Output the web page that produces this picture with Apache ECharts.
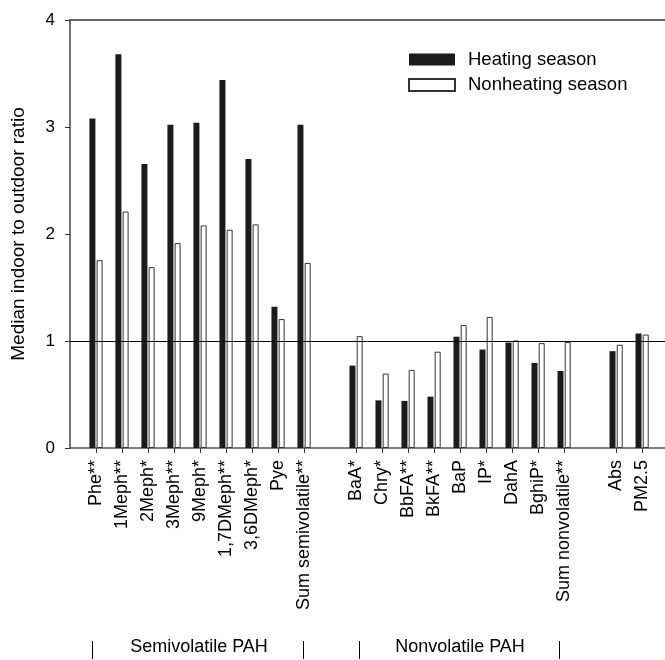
<!DOCTYPE html>
<html><head><meta charset="utf-8">
<script src="https://cdn.jsdelivr.net/npm/echarts@6/dist/echarts.min.js"></script>
<style>html,body{margin:0;padding:0;background:#fff}#c{width:665px;height:660px}</style>
</head><body><div id="c"></div>
<script>
// Category slots ('' = spacer between groups)
const categories = ['', 'Phe**', '1Meph**', '2Meph*', '3Meph**', '9Meph*', '1,7DMeph**', '3,6DMeph*', 'Pye', 'Sum semivolatile**', '',
  'BaA*', 'Chry*', 'BbFA**', 'BkFA**', 'BaP', 'IP*', 'DahA', 'BghiP*', 'Sum nonvolatile**', '', 'Abs', 'PM2.5'];
const heating =    [null, 3.08, 3.68, 2.655, 3.02, 3.04, 3.44, 2.70, 1.32, 3.02, null,
  0.77, 0.445, 0.44, 0.48, 1.04, 0.92, 0.985, 0.795, 0.72, null, 0.905, 1.07];
const nonheating = [null, 1.755, 2.21, 1.69, 1.915, 2.08, 2.04, 2.09, 1.205, 1.73, null,
  1.045, 0.695, 0.73, 0.90, 1.15, 1.225, 1.005, 0.98, 0.99, null, 0.965, 1.06];
const yTicks = [0, 1, 2, 3, 4];
const seriesNames = ['Heating season', 'Nonheating season'];
const groupLabels = ['Semivolatile PAH', 'Nonvolatile PAH'];
const referenceLine = 1;

const FONT = 'Liberation Sans, Arial, sans-serif';
const labelIdx = categories.map((c, i) => c ? i : -1).filter(i => i >= 0);
const toPairs = arr => arr.map((v, i) => v == null ? null : [i, v]).filter(d => d);

const chart = echarts.init(document.getElementById('c'));
chart.setOption({
  animation: false,
  backgroundColor: '#fff',
  grid: { left: 70, right: 0, top: 20, bottom: 212, containLabel: false },
  legend: {
    left: 408, top: 50, orient: 'vertical', padding: 0, itemWidth: 46, itemHeight: 12, itemGap: 6.5,
    icon: 'rect',
    textStyle: { fontFamily: FONT, fontSize: 18.5, color: '#000', padding: [0, 0, 0, 8] },
    data: seriesNames
  },
  xAxis: [{
    type: 'value', min: 0, max: 22.88, interval: 1,
    axisLine: { show: true, lineStyle: { color: '#555', width: 1.5 } },
    axisTick: { show: true, inside: false, length: 5, customValues: labelIdx, lineStyle: { color: '#333' } },
    axisLabel: {
      customValues: labelIdx, rotate: 90, margin: 12,
      fontFamily: FONT, fontSize: 18, color: '#000',
      formatter: v => categories[Math.round(v)] || ''
    },
    splitLine: { show: false }
  }, {
    type: 'value', position: 'top', min: 0, max: 22.88,
    axisLine: { show: true, lineStyle: { color: '#666', width: 2 } },
    axisTick: { show: false }, axisLabel: { show: false }, splitLine: { show: false }
  }],
  yAxis: {
    type: 'value', min: yTicks[0], max: yTicks[yTicks.length - 1], interval: 1,
    name: 'Median indoor to outdoor ratio', nameLocation: 'middle', nameGap: 42, nameRotate: 90,
    nameTextStyle: { fontFamily: FONT, fontSize: 19, color: '#000' },
    axisLine: { show: true, lineStyle: { color: '#444', width: 1.5 } },
    axisTick: { show: true, length: 5, lineStyle: { color: '#333' } },
    axisLabel: { margin: 15, fontFamily: FONT, fontSize: 17, color: '#000' },
    splitLine: { show: false }
  },
  series: [{
    name: seriesNames[0], type: 'bar', xAxisIndex: 0, barWidth: 6, barGap: '20%',
    itemStyle: { color: '#1b1b1b', borderColor: '#1b1b1b', borderWidth: 0 },
    data: toPairs(heating),
    markLine: {
      silent: true, symbol: 'none', label: { show: false },
      lineStyle: { color: '#000', width: 1, type: 'solid' },
      data: [{ yAxis: referenceLine }]
    }
  }, {
    name: seriesNames[1], type: 'bar', xAxisIndex: 0, barWidth: 6, barGap: '20%',
    itemStyle: { color: '#fff', borderColor: '#333', borderWidth: 1 },
    data: toPairs(nonheating)
  }],
  graphic: [
    { type: 'text', x: 199, y: 647, style: { text: groupLabels[0], fontFamily: FONT, fontSize: 18, fill: '#000', textAlign: 'center', textVerticalAlign: 'middle' } },
    { type: 'text', x: 460, y: 647, style: { text: groupLabels[1], fontFamily: FONT, fontSize: 18, fill: '#000', textAlign: 'center', textVerticalAlign: 'middle' } },
    { type: 'line', shape: { x1: 92.5, y1: 641, x2: 92.5, y2: 659 }, style: { stroke: '#000', lineWidth: 1 } },
    { type: 'line', shape: { x1: 303.5, y1: 641, x2: 303.5, y2: 659 }, style: { stroke: '#000', lineWidth: 1 } },
    { type: 'line', shape: { x1: 359.5, y1: 641, x2: 359.5, y2: 659 }, style: { stroke: '#000', lineWidth: 1 } },
    { type: 'line', shape: { x1: 559.5, y1: 641, x2: 559.5, y2: 659 }, style: { stroke: '#000', lineWidth: 1 } }
  ]
});
</script></body></html>
